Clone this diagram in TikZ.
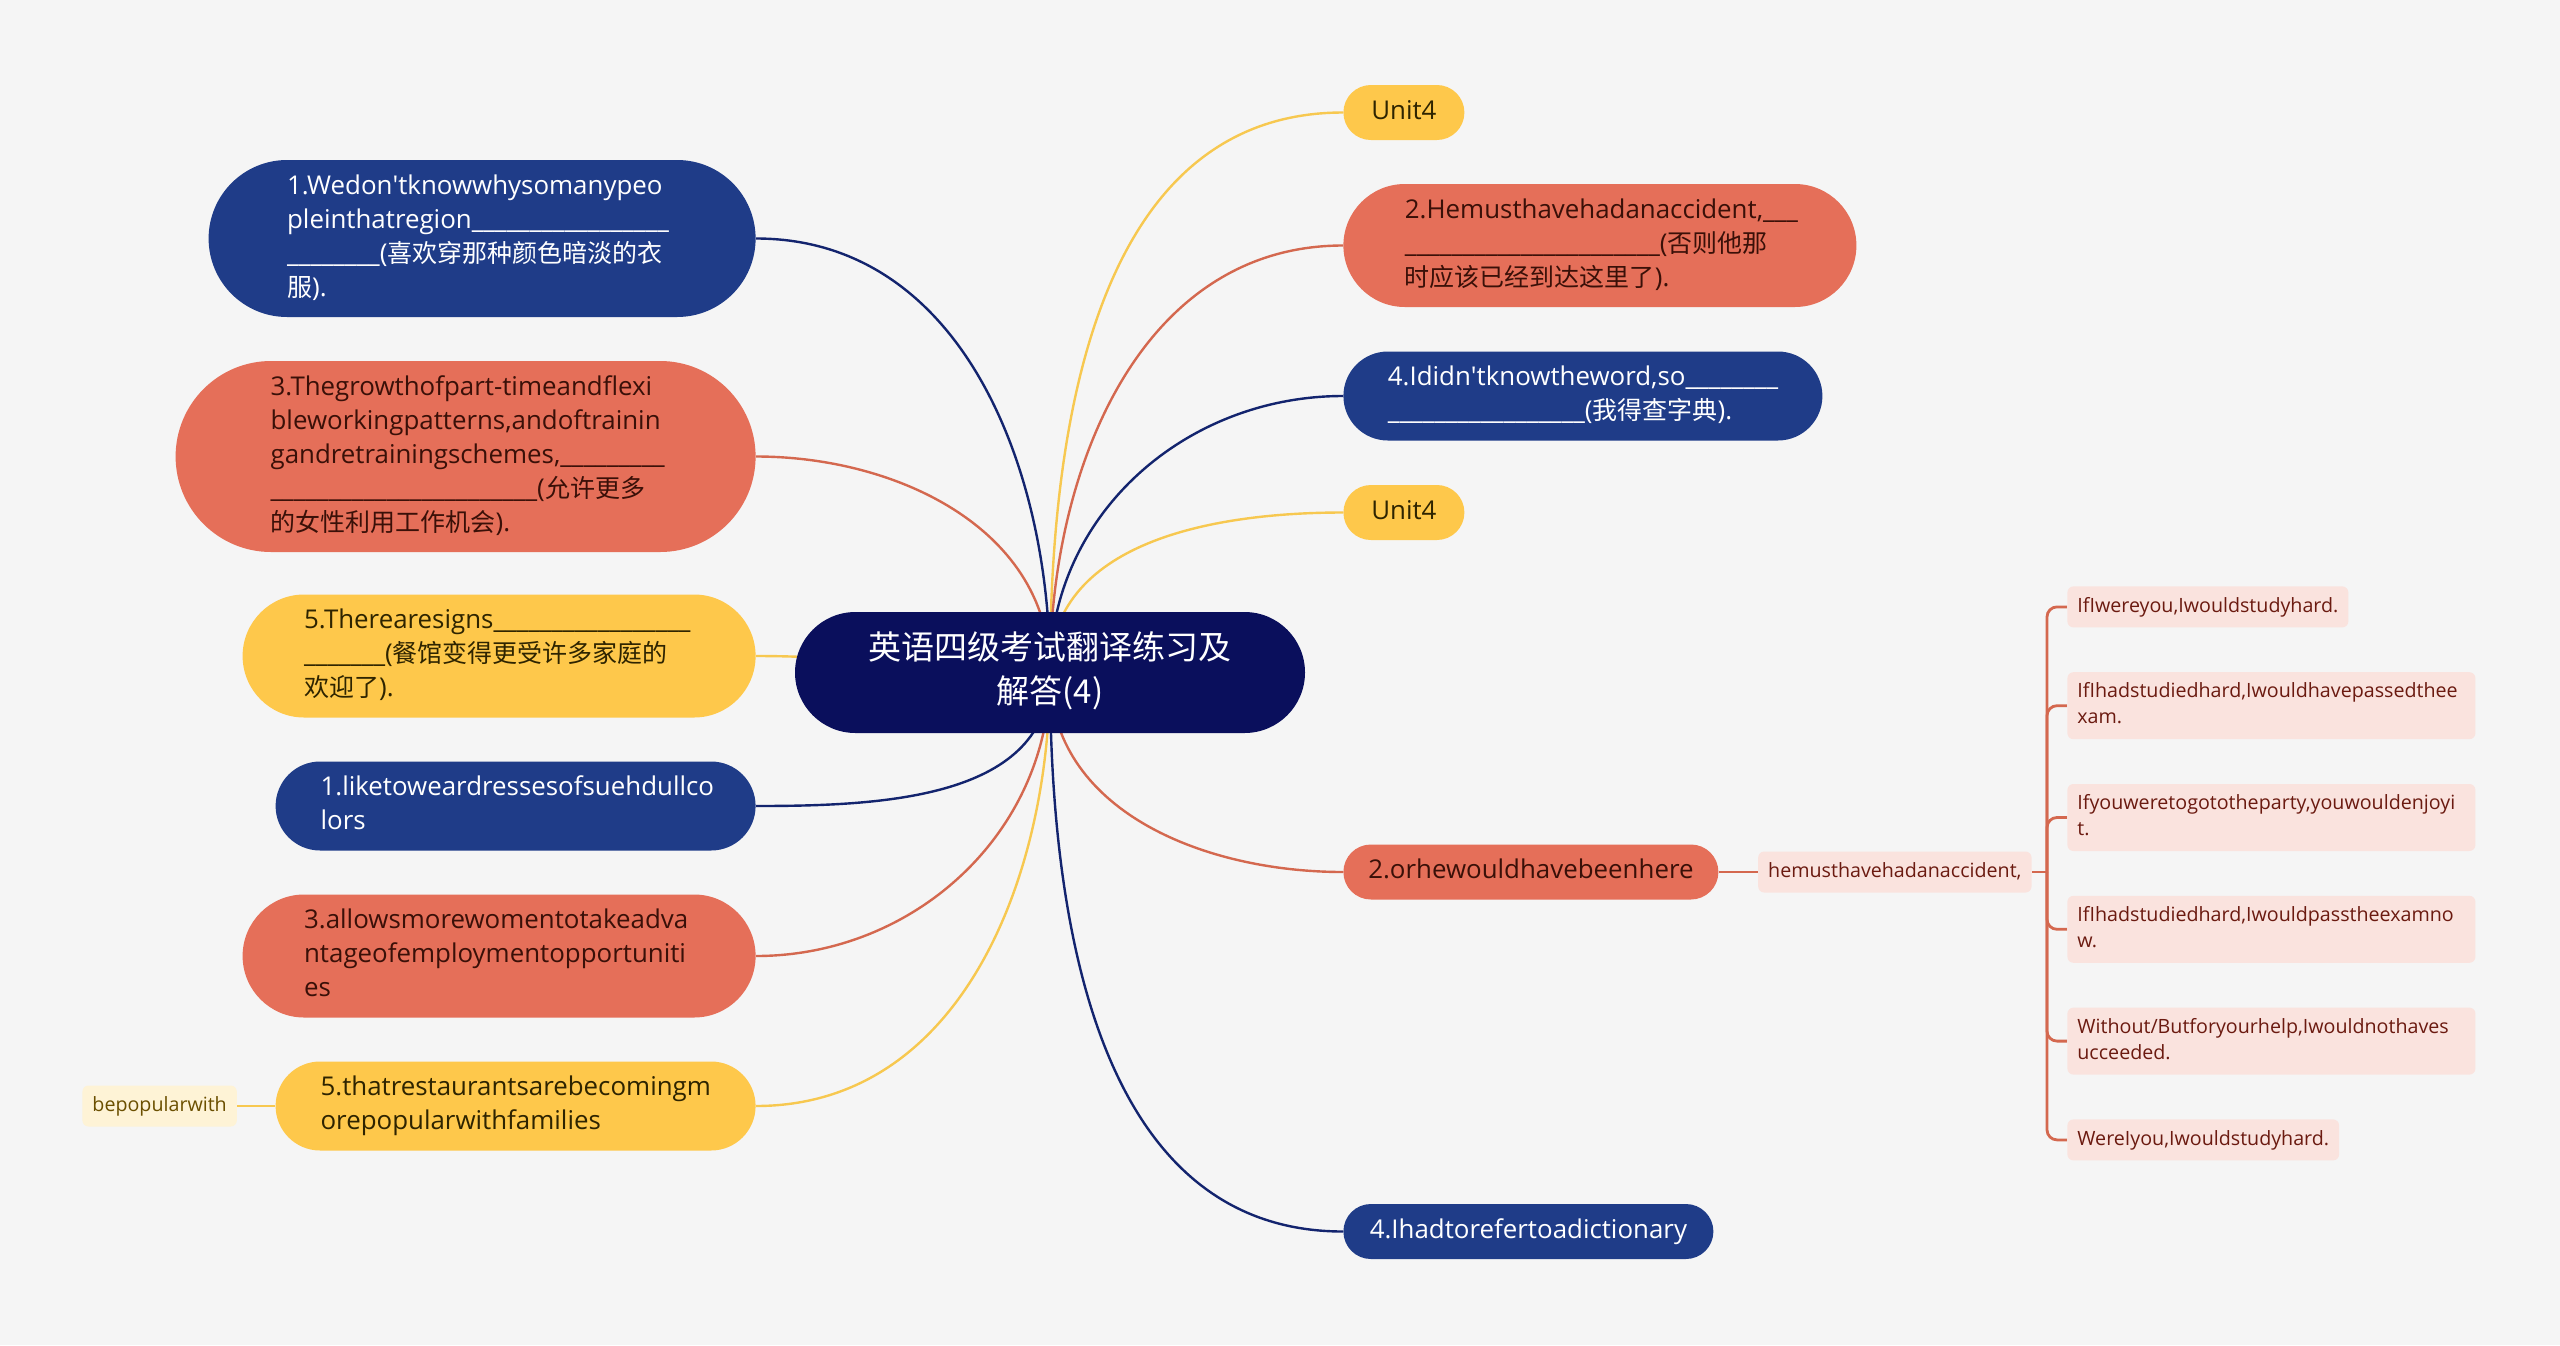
\documentclass[tikz,border=0pt]{standalone}
\usepackage{fontspec}
\setmainfont{Open Sans}[Scale=1.035]
\newfontfamily\cjk{Noto Sans CJK SC}
\usepackage{tikz}
\usetikzlibrary{shapes.misc}
\usetikzlibrary{positioning}
\usetikzlibrary{backgrounds}
\definecolor{page_bg}{HTML}{F5F5F5}
\definecolor{root_navy}{HTML}{0A0F5C}
\definecolor{c_blue}{HTML}{1F3C88}
\definecolor{c_orange}{HTML}{E56F59}
\definecolor{c_yellow}{HTML}{FEC84B}
\definecolor{c_orange_text}{HTML}{3A1008}
\definecolor{c_yellow_text}{HTML}{2E2400}
\definecolor{c_blue_line}{HTML}{13246E}
\definecolor{c_orange_line}{HTML}{D4684F}
\definecolor{c_yellow_line}{HTML}{F7C850}
\definecolor{c_leaf}{HTML}{FAE3DE}
\definecolor{c_leaf_text}{HTML}{6B1A10}
\definecolor{c_note}{HTML}{FEF3D6}
\definecolor{c_note_text}{HTML}{6B4F00}
\hyphenpenalty=10000
\exhyphenpenalty=10000
\tikzset{
root_node/.style={rounded rectangle, fill=root_navy, text=white, inner xsep=0pt, inner ysep=8.25pt, text width=194.5pt, minimum width=255pt, align=center, font=\cjk\fontsize{16.5pt}{22pt}\selectfont, execute at begin node=\strut, execute at end node=\strut},
topic/.style={rounded rectangle, inner xsep=0pt, inner ysep=5.25pt, font=\fontsize{12.5pt}{17pt}\selectfont, execute at begin node=\strut, execute at end node=\strut},
topic_wide/.style={topic, text width=195pt, align=left},
blue_topic/.style={fill=c_blue, text=white},
orange_topic/.style={fill=c_orange, text=c_orange_text},
yellow_topic/.style={fill=c_yellow, text=c_yellow_text},
leaf/.style={rectangle, rounded corners=3pt, fill=c_leaf, text=c_leaf_text, inner xsep=5pt, inner ysep=3.75pt, font=\fontsize{9.5pt}{13pt}\selectfont, execute at begin node=\strut, execute at end node=\strut},
leaf_wide/.style={leaf, text width=194pt, align=left},
note/.style={leaf, fill=c_note, text=c_note_text},
link/.style={line width=1.2pt},
leaf_link/.style={line width=1.4pt, draw=c_orange_line, rounded corners=5pt}
}

\begin{document}
\begin{tikzpicture}[x=0.5pt, y=-0.5pt]
    \useasboundingbox (0,0) rectangle (2560,1345);
    % centre
    \node[root_node] (root) at (1050,672.5) {英语四级考试翻译练习及\\解答(4)};

    % left side
    \node[topic_wide, blue_topic, minimum width=273.5pt, anchor=east] (l1_region) at (756,238.5) {1.Wedon\textquotesingle tknowwhysomanypeo\\pleinthatregion\_\_\_\_\_\_\_\_\_\_\_\_\_\_\_\_\_\\\_\_\_\_\_\_\_\_({\cjk 喜欢穿那种颜色暗淡的衣}\\{\cjk 服}).};
    \node[topic_wide, orange_topic, minimum width=290pt, anchor=east] (l2_growth) at (756,456.5) {3.Thegrowthofpart-timeandflexi\\bleworkingpatterns,andoftrainin\\gandretrainingschemes,\_\_\_\_\_\_\_\_\_\\\_\_\_\_\_\_\_\_\_\_\_\_\_\_\_\_\_\_\_\_\_\_\_({\cjk 允许更多}\\{\cjk 的女性利用工作机会}).};
    \node[topic_wide, yellow_topic, minimum width=256.5pt, anchor=east] (l3_signs) at (756,656) {5.Therearesigns\_\_\_\_\_\_\_\_\_\_\_\_\_\_\_\_\_\\\_\_\_\_\_\_\_({\cjk 餐馆变得更受许多家庭的}\\{\cjk 欢迎了}).};
    \node[topic_wide, blue_topic, minimum width=240pt, anchor=east] (l4_dull) at (756,806) {1.liketoweardressesofsuehdullco\\lors};
    \node[topic_wide, orange_topic, minimum width=256.5pt, anchor=east] (l5_women) at (756,956) {3.allowsmorewomentotakeadva\\ntageofemploymentopportuniti\\es};
    \node[topic_wide, yellow_topic, minimum width=240pt, anchor=east] (l6_popular) at (756,1106) {5.thatrestaurantsarebecomingm\\orepopularwithfamilies};
    \node[note] (n_bepopular) [left=19pt of l6_popular] {bepopularwith};

    % right side
    \node[topic, yellow_topic, minimum width=60.5pt, anchor=west] (r1_unit) at (1343,112.5) {Unit4};
    \node[topic_wide, orange_topic, minimum width=256.5pt, anchor=west] (r2_accident) at (1343,245.5) {2.Hemusthavehadanaccident,\_\_\_\\\_\_\_\_\_\_\_\_\_\_\_\_\_\_\_\_\_\_\_\_\_\_({\cjk 否则他那}\\{\cjk 时应该已经到达这里了}).};
    \node[topic_wide, blue_topic, minimum width=239.5pt, anchor=west] (r3_word) at (1343,396) {4.Ididn\textquotesingle tknowtheword,so\_\_\_\_\_\_\_\_\\\_\_\_\_\_\_\_\_\_\_\_\_\_\_\_\_\_({\cjk 我得查字典}).};
    \node[topic, yellow_topic, minimum width=60.5pt, anchor=west] (r4_unit) at (1343,512.5) {Unit4};
    \node[topic, orange_topic, minimum width=187.5pt, anchor=west] (r5_here) at (1343,872) {2.orhewouldhavebeenhere};
    \node[topic, blue_topic, minimum width=185pt, anchor=west] (r6_dictionary) at (1343,1231.5) {4.Ihadtorefertoadictionary};

    \node[leaf] (hemust) [right=19.5pt of r5_here] {hemusthavehadanaccident,};
    \coordinate (fork) at (2047,872);
    \node[leaf, anchor=north west] (leaf_a) at (2067,586) {IfIwereyou,Iwouldstudyhard.};
    \node[leaf_wide] (leaf_b) [below=22pt of leaf_a.south west, anchor=north west] {IfIhadstudiedhard,Iwouldhavepassedthee\\xam.};
    \node[leaf_wide] (leaf_c) [below=22pt of leaf_b.south west, anchor=north west] {Ifyouweretogototheparty,youwouldenjoyi\\t.};
    \node[leaf_wide] (leaf_d) [below=22pt of leaf_c.south west, anchor=north west] {IfIhadstudiedhard,Iwouldpasstheexamno\\w.};
    \node[leaf_wide] (leaf_e) [below=22pt of leaf_d.south west, anchor=north west] {Without/Butforyourhelp,Iwouldnothaves\\ucceeded.};
    \node[leaf] (leaf_f) [below=22pt of leaf_e.south west, anchor=north west] {WereIyou,Iwouldstudyhard.};

    \begin{scope}[on background layer]
        \fill[page_bg] (0,0) rectangle (2560,1345);
        \draw[link, draw=c_blue_line] (root.center) to[out=90,in=0] (l1_region.east);
        \draw[link, draw=c_orange_line] (root.center) to[out=90,in=0] (l2_growth.east);
        \draw[link, draw=c_yellow_line] (root.center) to[out=180,in=0] (l3_signs.east);
        \draw[link, draw=c_blue_line] (root.center) to[out=-90,in=0] (l4_dull.east);
        \draw[link, draw=c_orange_line] (root.center) to[out=-90,in=0] (l5_women.east);
        \draw[link, draw=c_yellow_line] (root.center) to[out=-90,in=0] (l6_popular.east);
        \draw[link, draw=c_yellow_line] (l6_popular.west) -- (n_bepopular.east);
        \draw[link, draw=c_yellow_line] (root.center) to[out=90,in=180] (r1_unit.west);
        \draw[link, draw=c_orange_line] (root.center) to[out=90,in=180] (r2_accident.west);
        \draw[link, draw=c_blue_line] (root.center) to[out=90,in=180] (r3_word.west);
        \draw[link, draw=c_yellow_line] (root.center) to[out=90,in=180] (r4_unit.west);
        \draw[link, draw=c_orange_line] (root.center) to[out=-90,in=180] (r5_here.west);
        \draw[link, draw=c_blue_line] (root.center) to[out=-90,in=180] (r6_dictionary.west);
        \draw[leaf_link] (r5_here.east) -- (hemust.west);
        \draw[leaf_link] (hemust.east) -- (fork);
        \draw[leaf_link] (fork) |- (leaf_a.west);
        \draw[leaf_link] (fork) |- (leaf_b.west);
        \draw[leaf_link] (fork) |- (leaf_c.west);
        \draw[leaf_link] (fork) |- (leaf_d.west);
        \draw[leaf_link] (fork) |- (leaf_e.west);
        \draw[leaf_link] (fork) |- (leaf_f.west);
    \end{scope}
\end{tikzpicture}
\end{document}
